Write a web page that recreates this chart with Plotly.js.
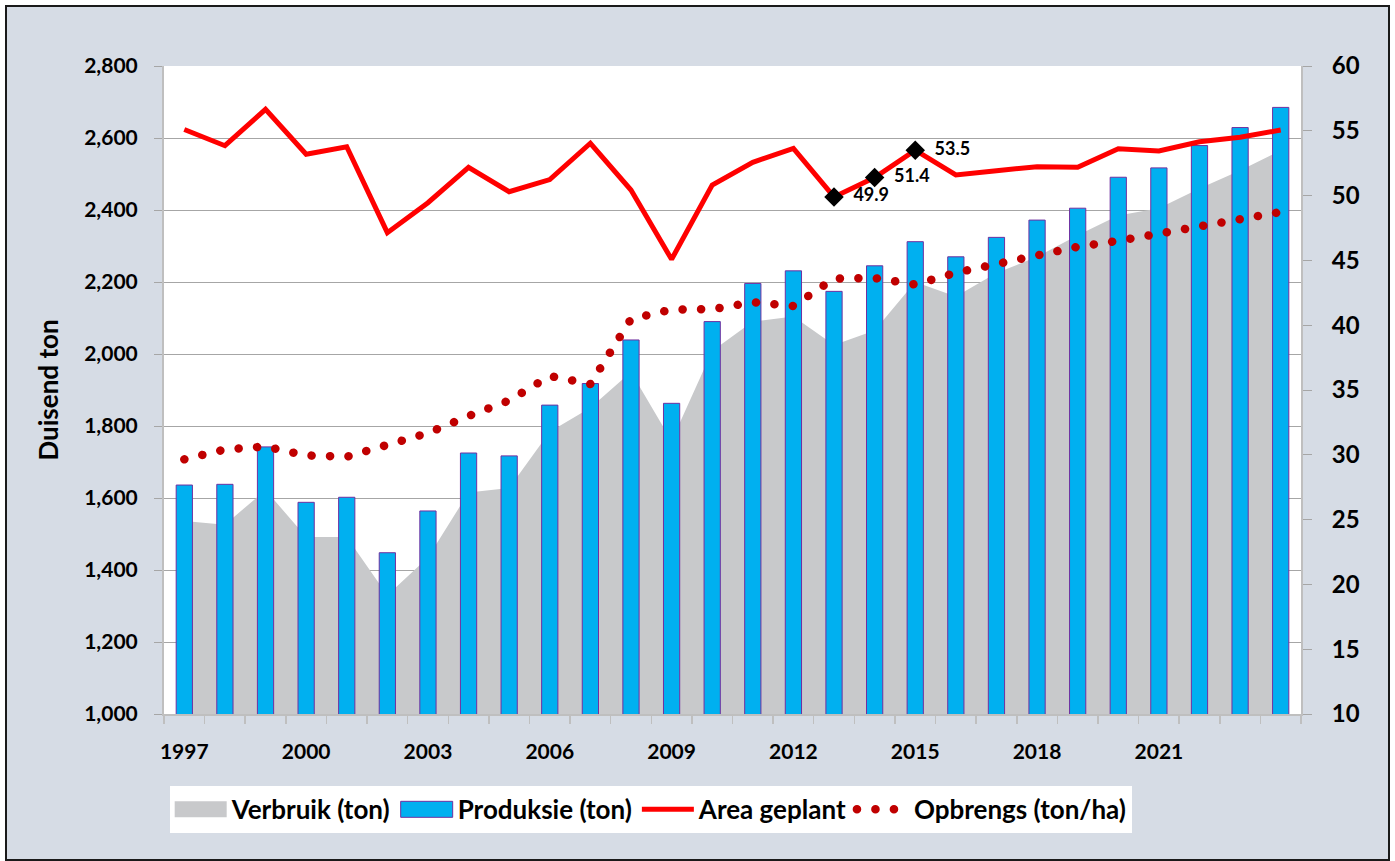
<!DOCTYPE html>
<html><head><meta charset="utf-8">
<script src="https://cdn.plot.ly/plotly-3.0.1.min.js"></script>
<style>
html,body{margin:0;padding:0;background:#fff;width:1395px;height:861px;overflow:hidden;}
#frame{position:absolute;left:5px;top:5px;width:1381px;height:852px;border:2px solid #1a1a1a;}
#chart{width:1381px;height:852px;}
</style></head><body>
<div id="frame"><div id="chart"></div></div>
<script>
const years = [1997,1998,1999,2000,2001,2002,2003,2004,2005,2006,2007,2008,2009,2010,
               2011,2012,2013,2014,2015,2016,2017,2018,2019,2020,2021,2022,2023,2024];
const verbruik = [1536,1526,1622,1492,1492,1330,1435,1615,1628,1784,1851,1950,1758,2008,
                  2090,2104,2025,2065,2200,2160,2225,2270,2330,2385,2405,2460,2510,2565];
const produksie = [1636,1638,1742,1588,1602,1448,1564,1725,1717,1858,1918,2039,1863,2090,
                   2196,2231,2174,2245,2312,2270,2324,2372,2405,2491,2517,2579,2629,2685];
const areaGeplant = [55.1,53.85,56.66,53.19,53.77,47.14,49.45,52.18,50.3,51.24,54.04,50.43,45.08,50.82,
                     52.57,53.65,49.9,51.4,53.5,51.59,51.92,52.23,52.18,53.62,53.44,54.16,54.5,55.06];
const opbrengs = [29.65,30.41,30.64,29.95,29.85,30.76,31.68,32.99,34.19,36.08,35.46,40.48,41.21,41.23,
                  41.77,41.48,43.6,43.64,43.14,44.05,44.76,45.43,46.05,46.51,47.08,47.63,48.17,48.73];
const tickYears = [1997,2000,2003,2006,2009,2012,2015,2018,2021];
const labelYears = [2013,2014,2015];
const labelValues = labelYears.map(y => areaGeplant[years.indexOf(y)]);

const FONT = "Lato, 'Open Sans', sans-serif";
const axisFont = {family: FONT, size: 21, color: '#000', weight: 'bold'};

const traces = [
  {name: 'Verbruik (ton)', type: 'scatter', mode: 'none', x: years, y: verbruik,
   fill: 'tozeroy', fillcolor: '#C8C9CB', xaxis: 'x', yaxis: 'y', hoverinfo: 'skip'},
  {name: 'Produksie (ton)', type: 'bar', x: years, y: produksie, width: 0.4,
   marker: {color: '#00B0F0', line: {color: '#7030A0', width: 1}}, xaxis: 'x', yaxis: 'y2'},
  {name: 'Area geplant', type: 'scatter', mode: 'lines', x: years, y: areaGeplant,
   line: {color: '#FF0000', width: 5}, xaxis: 'x', yaxis: 'y3'},
  {name: 'Opbrengs (ton/ha)', type: 'scatter', mode: 'lines', x: years, y: opbrengs,
   line: {color: '#C00000', width: 8.5, dash: '0.1px,18.4px'}, xaxis: 'x', yaxis: 'y3'},
  {name: 'labels', type: 'scatter', mode: 'markers+text', x: labelYears, y: labelValues,
   marker: {symbol: 'diamond', size: 15, color: '#000'},
   text: labelValues.map(v => v.toFixed(1)), texttemplate: '\u2002%{text}', textposition: 'middle right',
   textfont: {family: FONT, size: 18, color: '#000', weight: 'bold'},
   showlegend: false, xaxis: 'x', yaxis: 'y3'}
];

const layout = {
  width: 1381, height: 852,
  paper_bgcolor: '#D6DCE5', plot_bgcolor: '#FFFFFF',
  margin: {l: 157, r: 87, t: 59, b: 145},
  showlegend: true,
  legend: {orientation: 'h', x: 0.005, xanchor: 'left', y: -0.111, yanchor: 'top',
           bgcolor: '#FFFFFF', font: {family: FONT, size: 26, color: '#000', weight: 'bold'},
           traceorder: 'normal', itemwidth: 52},
  xaxis: {range: [1996.5, 2024.5], tickmode: 'array', tickvals: tickYears,
          ticktext: tickYears.map(String), ticks: '', tickfont: axisFont,
          ticklabelstandoff: 18,
          showline: true, linecolor: '#BFBFBF', linewidth: 2, showgrid: false, zeroline: false,
          minor: {tick0: 1996.5, dtick: 1, ticks: 'outside', ticklen: 8, tickcolor: '#BFBFBF', tickwidth: 1.5, showgrid: false}},
  yaxis: {range: [1000, 2800], dtick: 200, tickformat: ',d', tickfont: axisFont,
          ticks: 'outside', ticklen: 8, tickcolor: '#A6A6A6', tickwidth: 1,
          ticklabelstandoff: 12,
          showline: true, linecolor: '#BFBFBF', linewidth: 2,
          showgrid: true, gridcolor: '#A6A6A6', gridwidth: 1, zeroline: false,
          title: {text: 'Duisend ton', font: {family: FONT, size: 26, color: '#000', weight: 'bold'}, standoff: 18}},
  yaxis2: {range: [1000, 2800], overlaying: 'y', visible: false},
  yaxis3: {range: [10, 60], dtick: 5, overlaying: 'y', side: 'right',
           tickfont: {family: FONT, size: 24, color: '#000', weight: 'bold'},
           ticks: 'outside', ticklen: 9, tickcolor: '#A6A6A6', tickwidth: 1,
           ticklabelstandoff: 15,
           showline: true, linecolor: '#BFBFBF', linewidth: 2, showgrid: false, zeroline: false},
  bargap: 0.6
};

Plotly.newPlot('chart', traces, layout, {displayModeBar: false, staticPlot: true}).then(() => {
  document.querySelectorAll('path.js-line').forEach(p => {
    if ((p.style.strokeDasharray || '').indexOf('18.4') >= 0) p.style.strokeLinecap = 'round';
  });
  const leg = document.querySelector('.legend');
  if (leg) {
    leg.querySelectorAll('path.js-fill').forEach(p => p.setAttribute('d', 'M5,-8h52v16h-52z'));
    leg.querySelectorAll('path.legendbar, .legendpoints path').forEach(p => {
      if (p.closest('.legendpoints') || p.classList.contains('legendbar')) {
        p.setAttribute('d', 'M26,8H-26V-8H26Z');
      }
    });
  }
});
</script>
</body></html>
